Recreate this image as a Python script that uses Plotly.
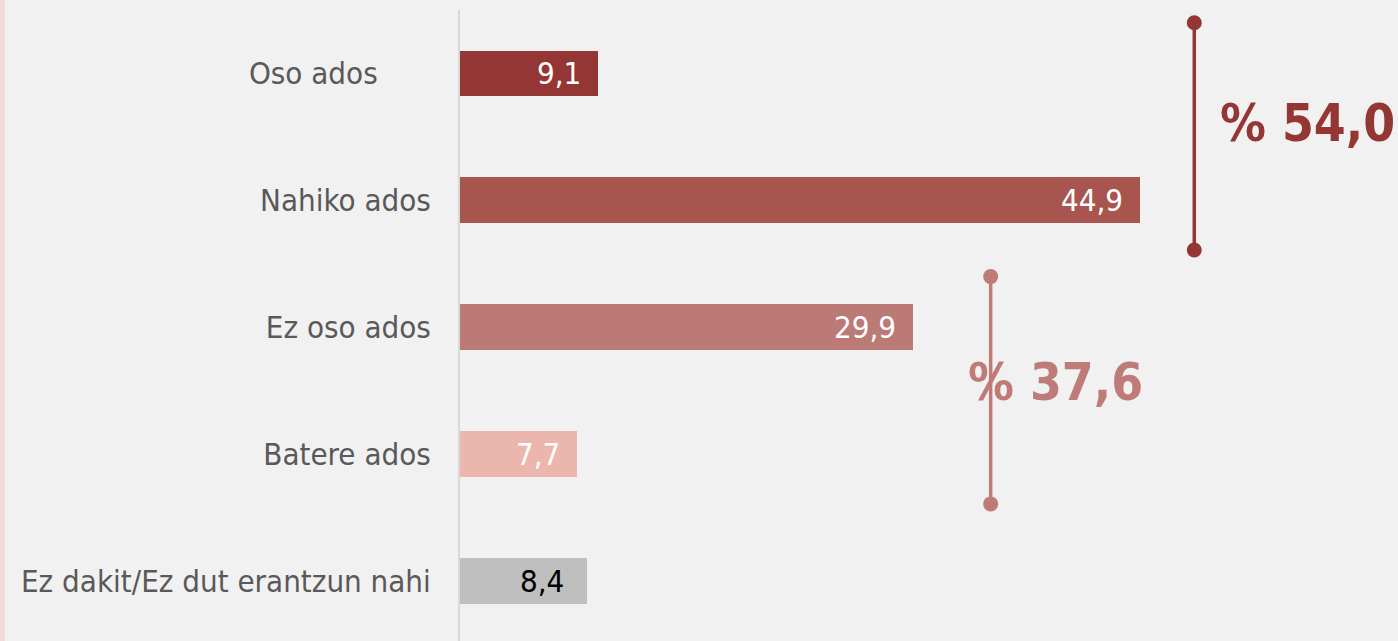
import plotly.graph_objects as go

categories = ["Oso ados", "Nahiko ados", "Ez oso ados", "Batere ados", "Ez dakit/Ez dut erantzun nahi"]
values = [9.1, 44.9, 29.9, 7.7, 8.4]
value_labels = ["9,1", "44,9", "29,9", "7,7", "8,4"]
bar_colors = ["#943634", "#a9554f", "#bb7a76", "#ebb6ad", "#bfbfbf"]
text_colors = ["#ffffff", "#ffffff", "#ffffff", "#ffffff", "#000000"]

group_totals = ["% 54,0", "% 37,6"]
group_ranges = [(0, 1), (2, 3)]
group_x = [48.5, 35.05]
group_colors = ["#943634", "#bf7b78"]
group_text_shift = [24, -25]
group_text_yshift = [8, 3]

FONT = "DejaVu Sans Condensed, DejaVu Sans, sans-serif"
ypos = list(range(len(categories)))
ticktext = [categories[0] + "\u00a0" * 6] + categories[1:]

fig = go.Figure()
fig.add_trace(go.Bar(
    y=ypos, x=values, orientation="h", width=0.362,
    marker=dict(color=bar_colors, line=dict(width=0)),
    hoverinfo="skip", showlegend=False,
))

for i, v in enumerate(values):
    fig.add_annotation(x=v, y=ypos[i], text=value_labels[i], showarrow=False,
                       xanchor="right", yanchor="middle", xshift=-15 if i < 4 else -21,
                       font=dict(family=FONT, size=31, color=text_colors[i]))

for k, (a, b) in enumerate(group_ranges):
    y0 = ypos[a] - 0.4
    y1 = ypos[b] + 0.39
    fig.add_trace(go.Scatter(
        x=[group_x[k], group_x[k]], y=[y0, y1], mode="lines+markers",
        line=dict(color=group_colors[k], width=3.5),
        marker=dict(size=15, color=group_colors[k]),
        cliponaxis=False, hoverinfo="skip", showlegend=False,
    ))
    fig.add_annotation(x=group_x[k], y=(y0 + y1) / 2 - 0.04, text="<b>" + group_totals[k] + "</b>",
                       showarrow=False, xanchor="left", yanchor="middle",
                       xshift=group_text_shift[k], yshift=group_text_yshift[k],
                       font=dict(family=FONT, size=51, color=group_colors[k]))

W, H = 1398, 641
ml = 460
pw = W - ml
fig.add_shape(type="rect", xref="paper", yref="paper",
              x0=-ml / pw, x1=-(ml - 5) / pw, y0=-0.01, y1=1.1,
              fillcolor="#f0dcdb", line=dict(width=0), layer="below")

fig.update_layout(
    width=W, height=H,
    margin=dict(l=ml, r=0, t=10, b=0, pad=0),
    paper_bgcolor="#f1f1f1", plot_bgcolor="#f1f1f1",
    bargap=0,
    xaxis=dict(range=[0, pw / 15.14], showgrid=False, zeroline=False, showticklabels=False,
               showline=False, fixedrange=True),
    yaxis=dict(range=[4.47, -0.5], tickvals=ypos, ticktext=ticktext, showgrid=False,
               zeroline=False, showline=True, linecolor="#d9d9d9", linewidth=2,
               ticks="", ticklabelstandoff=21, fixedrange=True,
               tickfont=dict(family=FONT, size=31, color="#595959")),
    font=dict(family=FONT),
)

fig.write_html("out.html", config={"displayModeBar": False},
               post_script="document.body.style.margin='0';document.body.style.padding='0';")
